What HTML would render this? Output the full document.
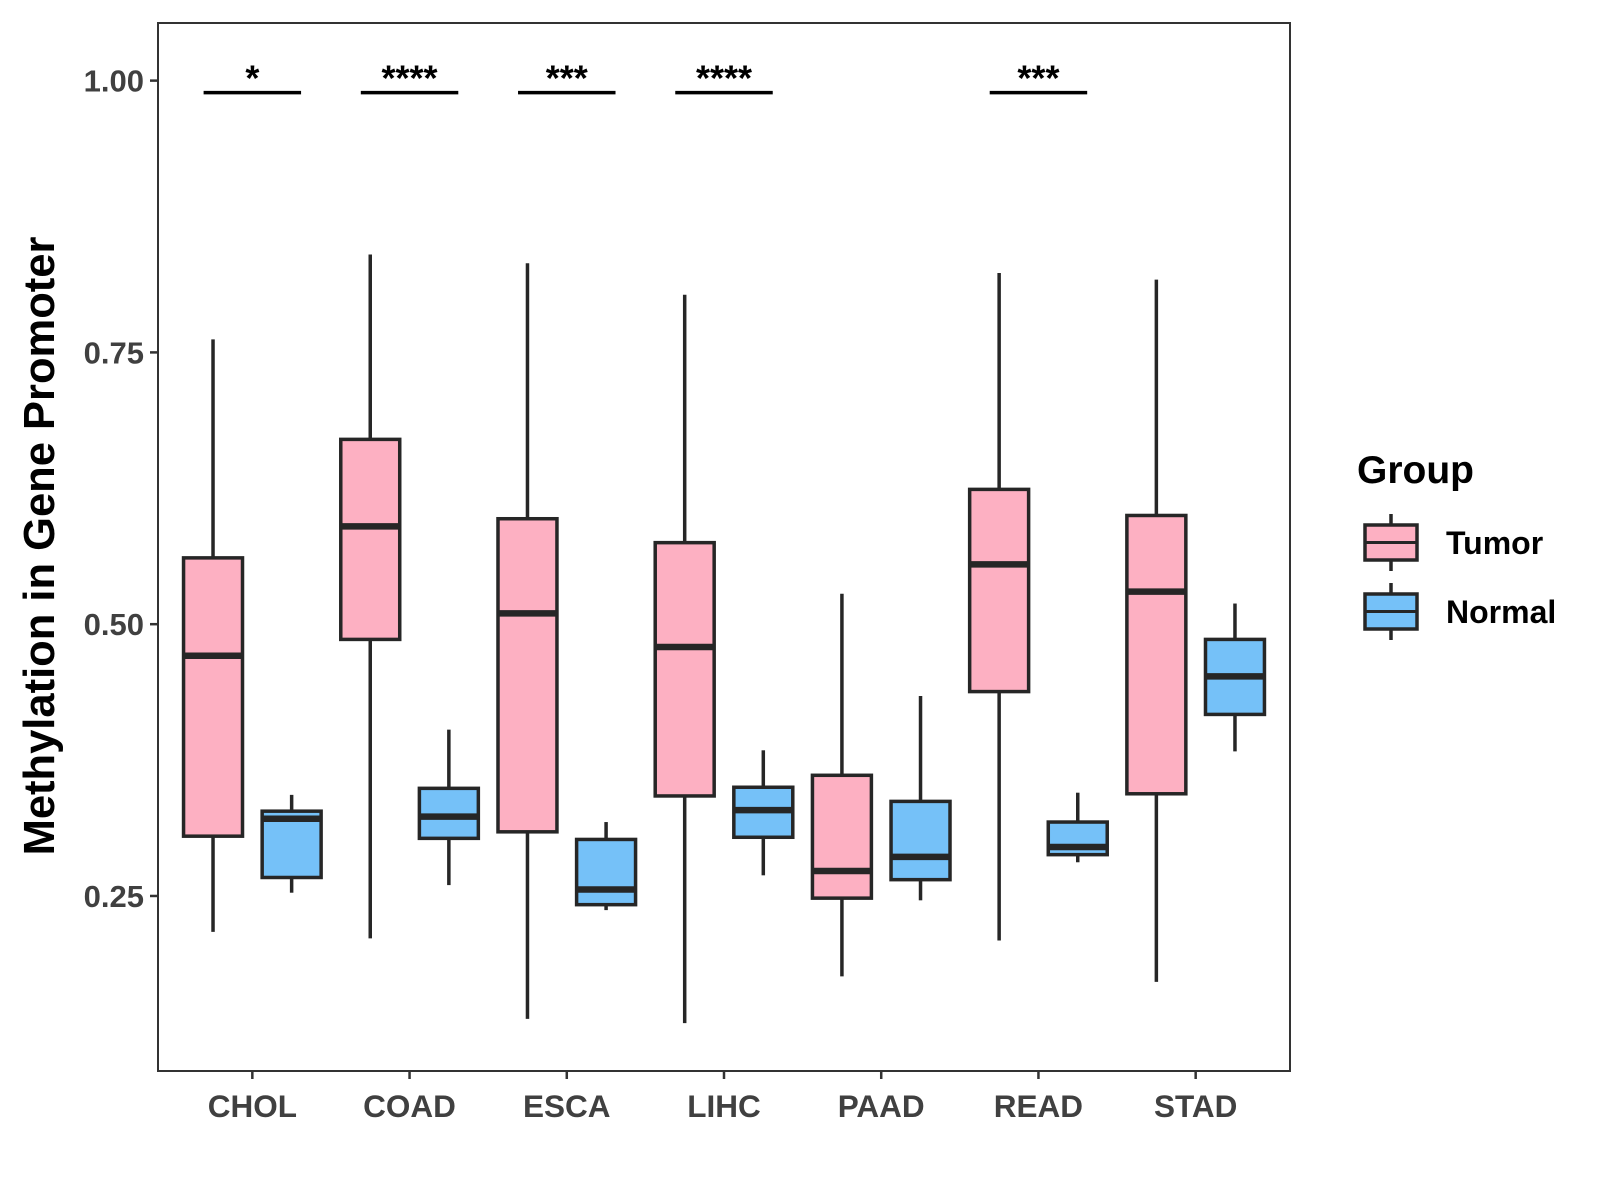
<!DOCTYPE html>
<html><head><meta charset="utf-8"><style>
html,body{margin:0;padding:0;background:#fff;}
svg{display:block;font-family:"Liberation Sans",Arial,sans-serif;}
</style></head><body>
<svg id="chart" width="1600" height="1200" viewBox="0 0 1600 1200"></svg>
<script>
const categories = ["CHOL","COAD","ESCA","LIHC","PAAD","READ","STAD"];
const tumorLow  = [0.217,0.211,0.137,0.133,0.176,0.209,0.171];
const tumorQ1   = [0.305,0.486,0.309,0.342,0.248,0.438,0.344];
const tumorMed  = [0.471,0.590,0.510,0.479,0.273,0.555,0.530];
const tumorQ3   = [0.561,0.670,0.597,0.575,0.361,0.624,0.600];
const tumorHigh = [0.762,0.840,0.832,0.803,0.528,0.823,0.817];
const normalLow  = [0.253,0.260,0.237,0.269,0.246,0.281,0.383];
const normalQ1   = [0.267,0.303,0.242,0.304,0.265,0.288,0.417];
const normalMed  = [0.321,0.323,0.256,0.329,0.286,0.295,0.452];
const normalQ3   = [0.328,0.349,0.302,0.350,0.337,0.318,0.486];
const normalHigh = [0.343,0.403,0.318,0.384,0.434,0.345,0.519];
const sigLabels = ["*","****","***","****","","***",""];
const yTicks = [0.25,0.50,0.75,1.00];
const yTickLabels = ["0.25","0.50","0.75","1.00"];

const NS="http://www.w3.org/2000/svg";
const svg=document.getElementById("chart");
const L=158,T=23,R=1290,B=1071;
const yMin=0.089,yMax=1.053;
function y(v){return B-(v-yMin)/(yMax-yMin)*(B-T);}
const step=(R-L)/(categories.length-1+1.2);
function x(i){return L+0.6*step+i*step;}
function mk(tag,attrs,name,parent){const e=document.createElementNS(NS,tag);for(const k in attrs)e.setAttribute(k,attrs[k]);


(parent||svg).appendChild(e);return e;}
const ink="#262626";
function drawBox(cx,lo,q1,md,q3,hi,fill,name){
  const g=mk("g",{},name);
  const w=0.375*step/2;
  mk("line",{x1:cx,x2:cx,y1:y(hi),y2:y(q3),stroke:ink,"stroke-width":3.5},"whisker-upper",g);
  mk("line",{x1:cx,x2:cx,y1:y(q1),y2:y(lo),stroke:ink,"stroke-width":3.5},"whisker-lower",g);
  mk("rect",{x:cx-w,y:y(q3),width:2*w,height:y(q1)-y(q3),fill:fill,stroke:ink,"stroke-width":3.5},"box",g);
  mk("line",{x1:cx-w,x2:cx+w,y1:y(md),y2:y(md),stroke:ink,"stroke-width":6.5},"median",g);
}
categories.forEach((c,i)=>{
  drawBox(x(i)-0.25*step,tumorLow[i],tumorQ1[i],tumorMed[i],tumorQ3[i],tumorHigh[i],"#FDB0C2","box-tumor-"+c.toLowerCase());
  drawBox(x(i)+0.25*step,normalLow[i],normalQ1[i],normalMed[i],normalQ3[i],normalHigh[i],"#75C1F8","box-normal-"+c.toLowerCase());
  if(sigLabels[i]){
    mk("line",{x1:x(i)-0.31*step,x2:x(i)+0.31*step,y1:y(0.989),y2:y(0.989),stroke:"#000","stroke-width":3.5},"significance-bar-"+c.toLowerCase());
    const t=mk("text",{x:x(i),y:y(0.989)-2,"text-anchor":"middle","font-size":36,"font-weight":"bold",fill:"#000"},"significance-label-"+c.toLowerCase());
    t.textContent=sigLabels[i];
  }
  mk("line",{x1:x(i),x2:x(i),y1:B,y2:B+8,stroke:"#333","stroke-width":2.5},"x-tick");
  const tl=mk("text",{x:x(i),y:1117,"text-anchor":"middle","font-size":31.5,"font-weight":"bold",fill:"#404040"},"x-tick-label-"+c.toLowerCase());
  tl.textContent=c;
});
yTicks.forEach((v,i)=>{
  mk("line",{x1:L-8,x2:L,y1:y(v),y2:y(v),stroke:"#333","stroke-width":2.5},"y-tick");
  const t=mk("text",{x:L-14,y:y(v)+11,"text-anchor":"end","font-size":31,"font-weight":"bold",fill:"#404040"},"y-tick-label");
  t.textContent=yTickLabels[i];
});
mk("rect",{x:L,y:T,width:R-L,height:B-T,fill:"none",stroke:"#333","stroke-width":2},"plot-panel");
const yt=mk("text",{x:0,y:0,transform:"translate(54,546) rotate(-90)","text-anchor":"middle","font-size":43.5,"font-weight":"bold",fill:"#000"},"y-axis-title");
yt.textContent="Methylation in Gene Promoter";
const lt=mk("text",{x:1357,y:483,"font-size":39,"font-weight":"bold",fill:"#000"},"legend-title");
lt.textContent="Group";
[["Tumor","#FDB0C2",525],["Normal","#75C1F8",594]].forEach(([n,f,ty])=>{
  const g=mk("g",{},"legend-entry-"+n.toLowerCase());
  mk("line",{x1:1391,x2:1391,y1:ty-11,y2:ty+46,stroke:ink,"stroke-width":3.5},"legend-whisker",g);
  mk("rect",{x:1365,y:ty,width:52,height:35,fill:f,stroke:ink,"stroke-width":3.5},"legend-key",g);
  mk("line",{x1:1365,x2:1417,y1:ty+17.5,y2:ty+17.5,stroke:ink,"stroke-width":3},"legend-median",g);
  const t=mk("text",{x:1446,y:ty+29,"font-size":32,"font-weight":"bold",fill:"#000"},"legend-label",g);
  t.textContent=n;
});
</script>
</body></html>
